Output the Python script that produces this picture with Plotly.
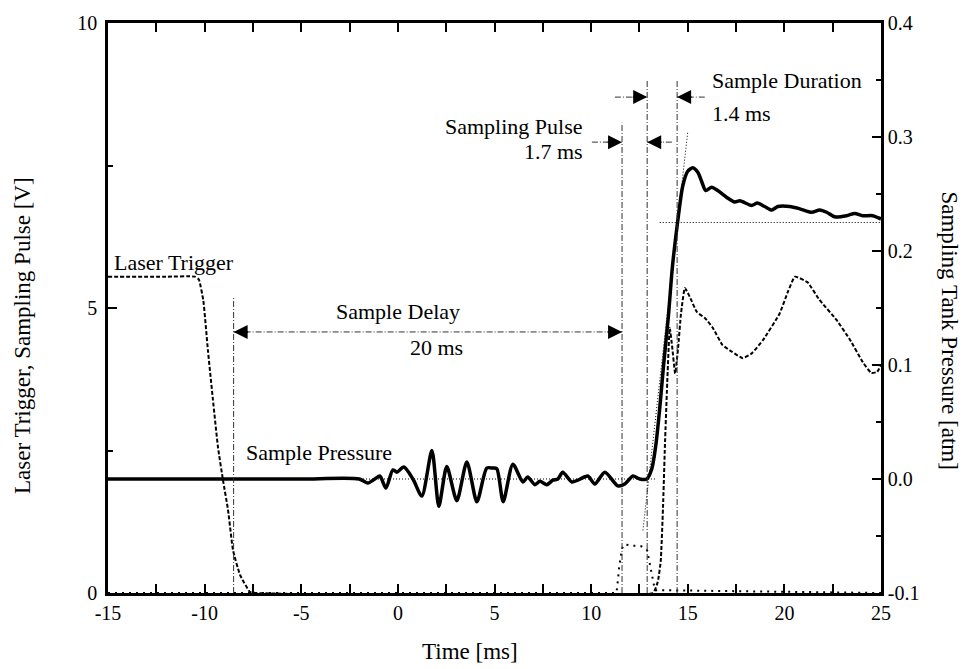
import plotly.graph_objects as go

# ---------------- data ----------------
# Sample pressure (right axis, atm)
pressure_t = [-15, -10, -5, -2.0, -1.55, -1.19, -0.93, -0.62, -0.26, -0.05, 0.31, 0.78, 1.24, 1.76, 2.12,
              2.53, 3.05, 3.57, 4.09, 4.60, 4.91, 5.12, 5.45, 5.95, 6.47, 6.72, 7.09, 7.35, 7.71,
              8.02, 8.28, 8.53, 9.00, 9.31, 9.83, 10.19, 10.71, 11.38, 11.74, 12.16, 12.52, 12.88,
              13.14, 13.35, 13.55, 13.75, 14.0, 14.2, 14.48, 14.74, 15.0, 15.26, 15.52, 15.72,
              15.93, 16.24, 16.55, 17.02, 17.43, 17.7, 18.3, 18.6, 18.98, 19.35, 19.66, 20.28,
              20.8, 21.41, 21.83, 22.19, 22.6, 23.22, 23.64, 24.05, 24.57, 24.88, 25.0]
pressure_atm = [0, 0, 0, 0, -0.0035, 0.0, 0.0026, -0.008, 0.008, 0.006, 0.0105, 0.0, -0.015, 0.025, -0.024,
                0.011, -0.019, 0.015, -0.020, 0.0096, 0.0096, 0.009, -0.020, 0.013, -0.0026, 0.0018,
                -0.005, -0.002, -0.005, -0.001, 0.0, 0.006, -0.0026, -0.001, 0.0026, -0.0044, 0.006,
                -0.006, -0.0044, 0.0026, 0.0, 0.0, 0.009, 0.03, 0.062, 0.1, 0.143, 0.185, 0.226,
                0.257, 0.270, 0.273, 0.269, 0.261, 0.253, 0.256, 0.253, 0.247, 0.243, 0.244, 0.240,
                0.242, 0.239, 0.236, 0.239, 0.239, 0.237, 0.234, 0.236, 0.234, 0.230, 0.231, 0.233,
                0.231, 0.231, 0.229, 0.228]

# Laser trigger (left axis, V)
laser_t = [-15, -12, -10.5, -10.3, -10.07, -9.83, -9.57, -9.31, -9.05, -8.79, -8.53, -8.17, -7.66, -7.3,
           13.2, 13.45, 13.6, 13.72, 13.82, 13.95, 14.07, 14.2, 14.35, 14.5, 14.65, 14.85, 15.1,
           15.47, 15.9, 16.3, 16.8, 17.3, 17.85, 18.3, 18.9, 19.75, 20.2, 20.55, 21.2, 21.8,
           22.7, 23.4, 24.06, 24.5, 24.8, 25.0]
laser_v = [5.55, 5.55, 5.55, 5.5, 5.14, 4.26, 3.39, 2.56, 1.98, 1.46, 0.75, 0.32, 0.02, 0,
           0, 0.2, 0.55, 1.5, 2.6, 3.8, 4.65, 4.3, 3.85, 4.3, 4.9, 5.35, 5.2,
           4.93, 4.82, 4.65, 4.35, 4.23, 4.12, 4.2, 4.44, 4.9, 5.3, 5.55, 5.45, 5.15,
           4.79, 4.44, 4.05, 3.86, 3.88, 4.0]

# Sampling pulse (left axis, V)
pulse_t = [-15, 11.3, 11.35, 11.45, 11.6, 11.7, 12.2, 12.6, 12.9, 13.05, 13.2, 13.3, 25]
pulse_v = [0, 0, 0.1, 0.45, 0.78, 0.85, 0.83, 0.82, 0.75, 0.5, 0.2, 0.05, 0]

# event times [ms]
delay_start = -8.5
pulse_start = 11.6
pulse_end = 12.9
duration_end = 14.45
final_level_atm = 0.225

x_ticks = [-15, -10, -5, 0, 5, 10, 15, 20, 25]
y_ticks = [0, 5, 10]
y2_ticks = [-0.1, 0.0, 0.1, 0.2, 0.3, 0.4]

FONT = "Liberation Serif"
DASHDOT = "6px,2px,1px,2px"
THINDOT = "1px,2px"

fig = go.Figure()

fig.add_trace(go.Scatter(x=laser_t, y=laser_v, mode="lines", yaxis="y",
                         line=dict(color="black", width=2, dash="4px,2px", shape="spline", smoothing=0.4),
                         showlegend=False, hoverinfo="skip"))
fig.add_trace(go.Scatter(x=pulse_t, y=pulse_v, mode="lines", yaxis="y",
                         line=dict(color="black", width=2, dash="2px,5px"),
                         showlegend=False, hoverinfo="skip"))
fig.add_trace(go.Scatter(x=pressure_t, y=pressure_atm, mode="lines", yaxis="y2",
                         line=dict(color="black", width=3.5, shape="spline", smoothing=0.7),
                         showlegend=False, hoverinfo="skip"))

shapes = []
# vertical dash-dot marker lines (left axis, V)
for xv, ytop in [(delay_start, 5.2), (pulse_start, 8.25), (pulse_end, 9.0), (duration_end, 9.0)]:
    shapes.append(dict(type="line", xref="x", yref="y", x0=xv, x1=xv, y0=0, y1=ytop,
                       line=dict(color="#333", width=1, dash=DASHDOT)))
# horizontal dash-dot arrow shafts
arrow_specs = [
    # (y, tail_x, tip_x)
    (4.58, delay_start, pulse_start),
    (7.91, 10.04, pulse_start),
    (7.91, 14.18, pulse_end),
    (8.70, 11.23, pulse_end),
    (8.70, 15.88, duration_end),
]
for yv, x0, x1 in arrow_specs:
    shapes.append(dict(type="line", xref="x", yref="y", x0=x0, x1=x1, y0=yv, y1=yv,
                       line=dict(color="#333", width=1, dash=DASHDOT)))
# thin dotted guides
shapes.append(dict(type="line", xref="x", yref="y2", x0=-15, x1=13.4, y0=0, y1=0,
                   line=dict(color="black", width=1, dash=THINDOT)))
shapes.append(dict(type="line", xref="x", yref="y2", x0=13.55, x1=25, y0=final_level_atm, y1=final_level_atm,
                   line=dict(color="black", width=1, dash=THINDOT)))
shapes.append(dict(type="line", xref="x", yref="y2", x0=12.68, x1=15.0, y0=-0.045, y1=0.3045,
                   line=dict(color="black", width=1, dash=THINDOT)))

annotations = []
# arrowheads: (tip_x, y, direction)
heads = [(delay_start, 4.58, -1), (pulse_start, 4.58, 1),
         (pulse_start, 7.91, 1), (pulse_end, 7.91, -1),
         (pulse_end, 8.70, 1), (duration_end, 8.70, -1)]
for hx, hy, d in heads:
    annotations.append(dict(x=hx, y=hy, xref="x", yref="y", text="", showarrow=True,
                            ax=-16 * d, ay=0, arrowhead=2, arrowsize=2.0, arrowwidth=1.4,
                            arrowcolor="black", standoff=0))

def label(text, x, y, xanchor="center"):
    annotations.append(dict(x=x, y=y, xref="x", yref="y", text=text, showarrow=False,
                            xanchor=xanchor, yanchor="middle",
                            font=dict(family=FONT, size=22, color="black")))

label("Laser Trigger", -14.8, 5.8, "left")
label("Sample Delay", 0.0, 4.93)
label("20 ms", 2.0, 4.3)
label("Sample Pressure", -7.96, 2.46, "left")
label("Sampling Pulse", 9.68, 8.18, "right")
label("1.7 ms", 9.68, 7.74, "right")
label("Sample Duration", 16.14, 9.0, "left")
label("1.4 ms", 16.14, 8.42, "left")

# axis titles
annotations.append(dict(x=0.468, y=-0.1035, xref="paper", yref="paper", text="Time [ms]",
                        showarrow=False, xanchor="center", yanchor="middle",
                        font=dict(family=FONT, size=23, color="black")))
annotations.append(dict(x=-0.1113, y=0.4526, xref="paper", yref="paper",
                        text="Laser Trigger, Sampling Pulse [V]", textangle=-90,
                        showarrow=False, xanchor="center", yanchor="middle",
                        font=dict(family=FONT, size=23, color="black")))
annotations.append(dict(x=1.089, y=0.461, xref="paper", yref="paper",
                        text="Sampling Tank Pressure [atm]", textangle=90,
                        showarrow=False, xanchor="center", yanchor="middle",
                        font=dict(family=FONT, size=23, color="black")))

tickfont = dict(family=FONT, size=20, color="black")
axis_common = dict(showline=True, linewidth=2.5, linecolor="black", showgrid=False, zeroline=False,
                   ticks="inside", ticklen=9, tickwidth=2, tickcolor="black", tickfont=tickfont,
                   automargin=False)

fig.update_layout(
    width=976, height=669,
    margin=dict(l=108, r=95, t=23, b=76),
    paper_bgcolor="white", plot_bgcolor="white",
    showlegend=False,
    shapes=shapes, annotations=annotations,
    xaxis=dict(range=[-15, 25], tickmode="array", tickvals=x_ticks, ticktext=[str(v) for v in x_ticks],
               mirror="allticks", minor=dict(dtick=2.5, ticklen=5, tickwidth=1.5, ticks="inside", tickcolor="black"),
               **axis_common),
    yaxis=dict(range=[0, 10], tickmode="array", tickvals=y_ticks, ticktext=[str(v) for v in y_ticks],
               ticklabelstandoff=4,
               minor=dict(dtick=2.5, ticklen=5, tickwidth=1.5, ticks="inside", tickcolor="black"),
               **axis_common),
    yaxis2=dict(range=[-0.1, 0.4], overlaying="y", side="right", tickmode="array", tickvals=y2_ticks,
                ticktext=[f"{v:.1f}" for v in y2_ticks],
                minor=dict(dtick=0.05, ticklen=5, tickwidth=1.5, ticks="inside", tickcolor="black"),
                **axis_common),
)

# remove the default page margin so the figure fills the window exactly
fig.write_html("out.html", config={"displayModeBar": False},
               post_script="document.body.style.margin='0';document.body.style.overflow='hidden';")
